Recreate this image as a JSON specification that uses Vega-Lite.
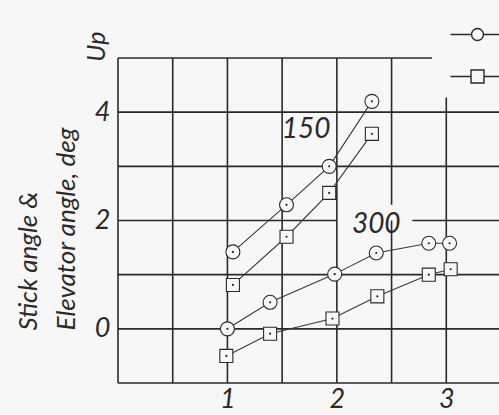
{
  "$schema": "https://vega.github.io/schema/vega-lite/v6.json",
  "autosize": {"type": "none"},
  "width": 383,
  "height": 325,
  "padding": {"left": 118, "top": 58, "right": 0, "bottom": 32},
  "background": "#f7f7f7",
  "config": {
    "view": {"stroke": null},
    "font": "Lato",
    "axis": {"labelFont": "Lato", "titleFont": "Lato", "labelColor": "#2a2a2a", "titleColor": "#2a2a2a"}
  },
  "datasets": {
    "points": [
      {"speed": "150", "measure": "Stick angle", "x": 1.05, "y": 1.42},
      {"speed": "150", "measure": "Stick angle", "x": 1.54, "y": 2.29},
      {"speed": "150", "measure": "Stick angle", "x": 1.93, "y": 3.0},
      {"speed": "150", "measure": "Stick angle", "x": 2.32, "y": 4.2},
      {"speed": "150", "measure": "Elevator angle", "x": 1.05, "y": 0.81},
      {"speed": "150", "measure": "Elevator angle", "x": 1.54, "y": 1.7},
      {"speed": "150", "measure": "Elevator angle", "x": 1.93, "y": 2.51},
      {"speed": "150", "measure": "Elevator angle", "x": 2.32, "y": 3.6},
      {"speed": "300", "measure": "Stick angle", "x": 1.0, "y": 0.0},
      {"speed": "300", "measure": "Stick angle", "x": 1.39, "y": 0.49},
      {"speed": "300", "measure": "Stick angle", "x": 1.98, "y": 1.01},
      {"speed": "300", "measure": "Stick angle", "x": 2.36, "y": 1.4},
      {"speed": "300", "measure": "Stick angle", "x": 2.84, "y": 1.58},
      {"speed": "300", "measure": "Stick angle", "x": 3.03, "y": 1.58},
      {"speed": "300", "measure": "Elevator angle", "x": 0.99, "y": -0.5},
      {"speed": "300", "measure": "Elevator angle", "x": 1.39, "y": -0.09},
      {"speed": "300", "measure": "Elevator angle", "x": 1.96, "y": 0.19},
      {"speed": "300", "measure": "Elevator angle", "x": 2.37, "y": 0.6},
      {"speed": "300", "measure": "Elevator angle", "x": 2.84, "y": 1.0},
      {"speed": "300", "measure": "Elevator angle", "x": 3.04, "y": 1.1}
    ],
    "grid": [
      {"x": 0.0, "x2": 0.0, "y": -1, "y2": 5},
      {"x": 0.5, "x2": 0.5, "y": -1, "y2": 5},
      {"x": 1.0, "x2": 1.0, "y": -1, "y2": 5},
      {"x": 1.5, "x2": 1.5, "y": -1, "y2": 5},
      {"x": 2.0, "x2": 2.0, "y": -1, "y2": 5},
      {"x": 2.5, "x2": 2.5, "y": -1, "y2": 2.0},
      {"x": 2.5, "x2": 2.5, "y": 2.29, "y2": 5},
      {"x": 3.0, "x2": 3.0, "y": -1, "y2": 4.27},
      {"x": 3.5, "x2": 3.5, "y": -1, "y2": 5},
      {"x": 0.0, "x2": 3.5, "y": -1, "y2": -1},
      {"x": 0.0, "x2": 3.5, "y": 0, "y2": 0},
      {"x": 0.0, "x2": 3.5, "y": 1, "y2": 1},
      {"x": 0.0, "x2": 2.0, "y": 2, "y2": 2},
      {"x": 2.69, "x2": 3.5, "y": 2, "y2": 2},
      {"x": 0.0, "x2": 3.5, "y": 3, "y2": 3},
      {"x": 0.0, "x2": 3.5, "y": 4, "y2": 4},
      {"x": 0.0, "x2": 2.87, "y": 5, "y2": 5}
    ],
    "labels": [
      {"text": "150", "x": 1.72, "y": 3.68},
      {"text": "300", "x": 2.36, "y": 1.92}
    ],
    "side": [
      {"text": "Up", "x": -0.19, "y": 5.21}
    ]
  },
  "resolve": {"scale": {"shape": "independent"}, "legend": {"shape": "independent"}},
  "layer": [
    {
      "data": {"name": "grid"},
      "mark": {"type": "rule", "color": "#2a2a2a", "strokeWidth": 1.6},
      "encoding": {
        "x": {"field": "x", "type": "quantitative", "scale": {"domain": [0, 3.5], "nice": false, "zero": false},
          "axis": {"values": [1, 2, 3], "format": "d", "grid": false, "domain": false, "ticks": false, "title": null, "labelFontSize": 27, "labelFontStyle": "italic", "labelPadding": 3}},
        "x2": {"field": "x2"},
        "y": {"field": "y", "type": "quantitative", "scale": {"domain": [-1, 5], "nice": false, "zero": false},
          "axis": {"values": [0, 2, 4], "format": "d", "grid": false, "domain": false, "ticks": false, "labelFontSize": 27, "labelFontStyle": "italic", "labelPadding": 8,
            "title": ["Stick angle &", "Elevator angle, deg"], "titleFontSize": 26, "titleFontStyle": "italic", "titleFontWeight": "normal",
            "titleAngle": -90, "titleAlign": "left", "titleBaseline": "middle", "titleLineHeight": 38, "titleX": -90, "titleY": 272}},
        "y2": {"field": "y2"}
      }
    },
    {
      "data": {"name": "points"},
      "mark": {"type": "line", "color": "#3a3a3a", "strokeWidth": 1.1},
      "encoding": {
        "x": {"field": "x", "type": "quantitative"},
        "y": {"field": "y", "type": "quantitative"},
        "detail": [{"field": "speed"}, {"field": "measure"}]
      }
    },
    {
      "data": {"name": "points"},
      "mark": {"type": "point", "filled": false, "fill": "#f7f7f7", "fillOpacity": 1, "stroke": "#2a2a2a", "strokeWidth": 1.1, "opacity": 1, "size": 196},
      "encoding": {
        "x": {"field": "x", "type": "quantitative"},
        "y": {"field": "y", "type": "quantitative"},
        "shape": {"field": "measure", "type": "nominal",
          "scale": {"domain": ["Stick angle", "Elevator angle"],
            "range": ["M1,0A1,1 0 1,1 -1,0A1,1 0 1,1 1,0Z M0.08,0A0.08,0.08 0 1,1 -0.08,0A0.08,0.08 0 1,1 0.08,0Z",
                      "M-0.93,-0.93H0.93V0.93H-0.93Z M0.08,0A0.08,0.08 0 1,1 -0.08,0A0.08,0.08 0 1,1 0.08,0Z"]},
          "legend": null
        }
      }
    },
    {
      "data": {"name": "points"},
      "mark": {"type": "point", "filled": false, "color": "#2a2a2a", "stroke": "#2a2a2a", "opacity": 0, "size": 10},
      "encoding": {
        "x": {"field": "x", "type": "quantitative"},
        "y": {"field": "y", "type": "quantitative"},
        "shape": {"field": "measure", "type": "nominal",
          "scale": {"domain": ["Stick angle", "Elevator angle"],
            "range": ["M-2,0H-0.44M0.44,0H2M0.44,0A0.44,0.44 0 1,1 -0.44,0A0.44,0.44 0 1,1 0.44,0",
                      "M-2,0H-0.48M0.48,0H2M-0.48,-0.48H0.48V0.48H-0.48Z"]},
          "legend": {"title": null, "orient": "none", "legendX": 345, "legendY": -38, "padding": 0, "rowPadding": 17,
            "labelFontSize": 20, "labelColor": "#2a2a2a", "labelOffset": 40, "symbolSize": 729, "symbolOpacity": 1,
            "symbolStrokeColor": "#2a2a2a", "symbolFillColor": "#f7f7f7", "symbolStrokeWidth": 1.4,
            "encode": {"symbols": {"update": {
              "stroke": {"value": "#2a2a2a"},
              "strokeWidth": {"value": 1.4},
              "fill": {"value": "#f7f7f7"},
              "opacity": {"value": 1},
              "strokeOpacity": {"value": 1},
              "fillOpacity": {"value": 1}
            }}}}
        }
      }
    },
    {
      "data": {"name": "labels"},
      "mark": {"type": "text", "fontSize": 28, "fontStyle": "italic", "color": "#2a2a2a", "align": "center", "baseline": "middle"},
      "encoding": {
        "x": {"field": "x", "type": "quantitative"},
        "y": {"field": "y", "type": "quantitative"},
        "text": {"field": "text"}
      }
    },
    {
      "data": {"name": "side"},
      "mark": {"type": "text", "fontSize": 25, "fontStyle": "italic", "color": "#2a2a2a", "align": "center", "baseline": "middle", "angle": 270},
      "encoding": {
        "x": {"field": "x", "type": "quantitative"},
        "y": {"field": "y", "type": "quantitative"},
        "text": {"field": "text"}
      }
    }
  ]
}
